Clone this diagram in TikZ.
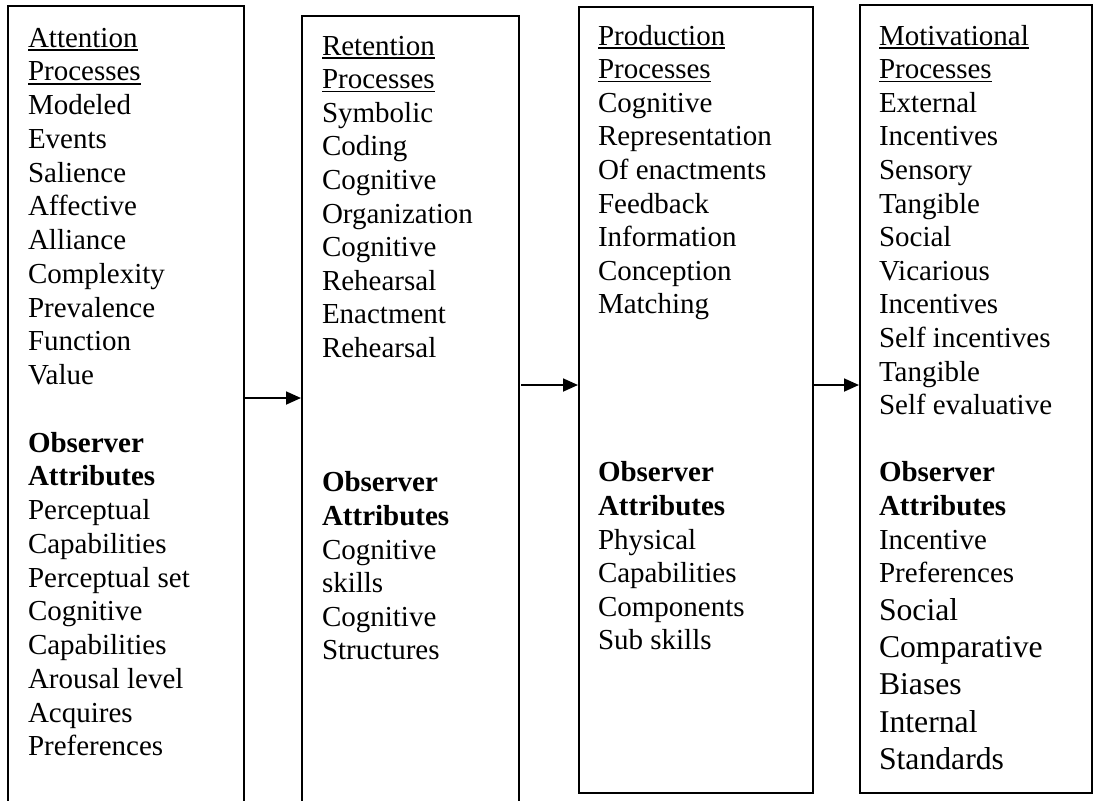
\documentclass[tikz,border=0pt]{standalone}
\usepackage{fontspec}
\setmainfont{Liberation Serif}
\usetikzlibrary{arrows.meta}
\newcommand\myul[1]{\setbox0\hbox{#1}\rlap{\rule[-1.9pt]{\wd0}{0.85pt}}\box0}
\begin{document}
\begin{tikzpicture}[x=0.5pt,y=-0.5pt,
  boxline/.style={draw=black,line width=1pt},
  txt/.style={anchor=base west,inner sep=0pt,outer sep=0pt,font=\fontsize{14.5}{16.75}\selectfont},
  bigtxt/.style={anchor=base west,inner sep=0pt,outer sep=0pt,font=\fontsize{15.85}{18.5}\selectfont},
  flow/.style={line width=0.9pt,-{Triangle[length=7.5pt,width=6.5pt]}}]
\useasboundingbox (0,0) rectangle (1094,800);
\clip (0,0) rectangle (1094,800);
% boxes
\node[boxline,inner sep=0pt,anchor=north west,minimum width=118pt,minimum height=402.5pt] (b1) at (7,5) {};
\node[boxline,inner sep=0pt,anchor=north west,minimum width=108.5pt,minimum height=397.5pt] (b2) at (301,15) {};
\node[boxline,inner sep=0pt,anchor=north west,minimum width=117pt,minimum height=393pt] (b3) at (578,6) {};
\node[boxline,inner sep=0pt,anchor=north west,minimum width=116pt,minimum height=394pt] (b4) at (859,4) {};
% arrows
\coordinate (a1s) at (243,398); \coordinate (a1e) at (301,398);
\coordinate (a2s) at (521,385); \coordinate (a2e) at (578,385);
\coordinate (a3s) at (812,385); \coordinate (a3e) at (859,385);
\draw[flow] (a1s) -- (a1e);
\draw[flow] (a2s) -- (a2e);
\draw[flow] (a3s) -- (a3e);
% box 1 text
\foreach \t [count=\i] in {{\myul{Attention}},{\myul{Processes}},Modeled,Events,Salience,Affective,Alliance,Complexity,Prevalence,Function,Value,{},{\bfseries Observer},{\bfseries Attributes},Perceptual,Capabilities,Perceptual set,Cognitive,Capabilities,Arousal level,Acquires,Preferences}
  \node[txt] (ta\i) at (28,{47+33.75*(\i-1)}) {\t};
% box 2 text
\foreach \t [count=\i] in {{\myul{Retention}},{\myul{Processes}},Symbolic,Coding,Cognitive,Organization,Cognitive,Rehearsal,Enactment,Rehearsal,{},{},{},{\bfseries Observer},{\bfseries Attributes},Cognitive,skills,Cognitive,Structures}
  \node[txt] (tb\i) at (322,{55+33.6*(\i-1)}) {\t};
% box 3 text
\foreach \t [count=\i] in {{\myul{Production}},{\myul{Processes}},Cognitive,Representation,Of enactments,Feedback,Information,Conception,Matching,{},{},{},{},{\bfseries Observer},{\bfseries Attributes},Physical,Capabilities,Components,Sub skills}
  \node[txt] (tc\i) at (598,{45+33.6*(\i-1)}) {\t};
% box 4 text
\foreach \t [count=\i] in {{\myul{Motivational}},{\myul{Processes}},External,Incentives,Sensory,Tangible,Social,Vicarious,Incentives,Self incentives,Tangible,Self evaluative,{},{\bfseries Observer},{\bfseries Attributes},Incentive,Preferences}
  \node[txt] (td\i) at (879,{45+33.6*(\i-1)}) {\t};
\foreach \t [count=\i] in {Social,Comparative,Biases,Internal,Standards}
  \node[bigtxt] (te\i) at (879,{620+37.4*(\i-1)}) {\t};
\end{tikzpicture}
\end{document}
